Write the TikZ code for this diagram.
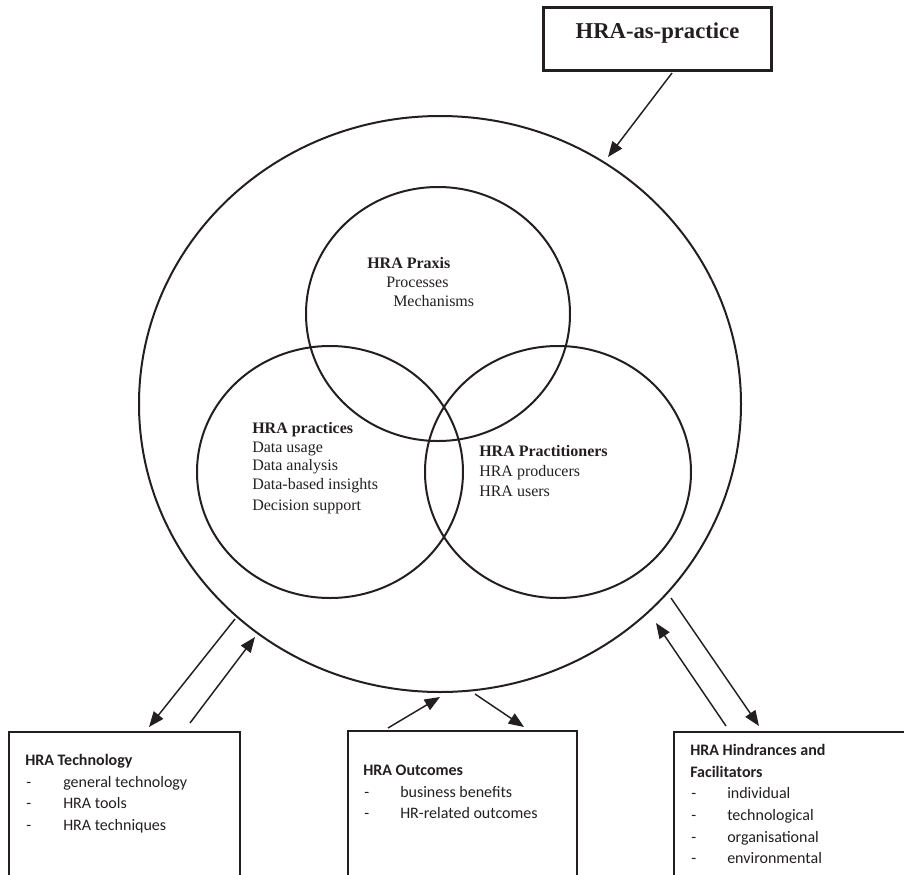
\documentclass[tikz,border=0pt]{standalone}
\usepackage{fontspec}
\setmainfont{Liberation Serif}
\newfontfamily\calib{Carlito}
\usetikzlibrary{shapes.geometric,arrows.meta}
\definecolor{ink}{RGB}{35,31,32}
\begin{document}
\begin{tikzpicture}[x=0.75pt,y=-0.75pt,
  ring/.style={draw=ink,line width=1.5pt,shape=ellipse,inner sep=0pt,outer sep=0pt},
  serif/.style={inner sep=0pt,anchor=base west,font=\fontsize{12}{14}\selectfont,text=ink},
  sans/.style={inner sep=0pt,anchor=base west,font=\calib\fontsize{12}{14}\selectfont,text=ink},
  boxed/.style={draw=ink,line width=1.25pt,rectangle,inner sep=0pt,outer sep=0pt},
  arr/.style={draw=ink,line width=1.1pt,-{Triangle[length=11.5pt,width=9pt]}}]
\useasboundingbox (0,0) rectangle (904,875);
\clip (0,0) rectangle (904,875);

% title box
\node[boxed,line width=2.5pt,minimum width=170.7pt,minimum height=47pt] (hbox) at (657.5,39) {};
\node[inner sep=0pt,anchor=base,text=ink,font=\fontsize{17}{20}\selectfont\bfseries] (htext) at (657.5,38) {HRA-as-practice};

% ellipses
\node[ring,minimum width=451.5pt,minimum height=432pt] (outer) at (440,404) {};
\node[ring,minimum width=198pt,minimum height=190.5pt] (praxis) at (438,314) {};
\node[ring,minimum width=199.5pt,minimum height=189pt] (practices) at (330,472) {};
\node[ring,minimum width=199.5pt,minimum height=189pt] (practitioners) at (558,472) {};

% praxis text
\node[serif] (px0) at (367,268) {\textbf{HRA Praxis}};
\node[serif] (px1) at (386,287) {Processes};
\node[serif] (px2) at (393,306) {Mechanisms};

% practices text
\node[serif] (pc0) at (252,433) {\textbf{HRA practices}};
\node[serif] (pc1) at (252,452) {Data usage};
\node[serif] (pc2) at (252,470) {Data analysis};
\node[serif] (pc3) at (252,489) {Data-based insights};
\node[serif] (pc4) at (252,510) {Decision support};

% practitioners text
\node[serif] (pt0) at (479,456) {\textbf{HRA Practitioners}};
\node[serif] (pt1) at (479,476) {HRA producers};
\node[serif] (pt2) at (479,496) {HRA users};

% bottom boxes
\node[boxed,minimum width=173.25pt,minimum height=225pt] (tech) at (124.5,882) {};
\node[boxed,minimum width=171.75pt,minimum height=225pt] (outc) at (462.5,881) {};
\node[boxed,minimum width=244.5pt,minimum height=225pt] (hind) at (837,882) {};

\node[sans] (tt0) at (25,765) {\textbf{HRA Technology}};
\node[sans] (tt1) at (26,787) {\makebox[27.75pt][l]{-}general technology};
\node[sans] (tt2) at (26,808) {\makebox[27.75pt][l]{-}HRA tools};
\node[sans] (tt3) at (26,830) {\makebox[27.75pt][l]{-}HRA techniques};

\node[sans] (to0) at (363,775) {\textbf{HRA Outcomes}};
\node[sans] (to1) at (364,797) {\makebox[27pt][l]{-}business benefits};
\node[sans] (to2) at (364,818) {\makebox[27pt][l]{-}HR-related outcomes};

\node[sans] (th0) at (690,755) {\textbf{HRA Hindrances and}};
\node[sans] (th1) at (690,777) {\textbf{Facilitators}};
\node[sans] (th2) at (691,798) {\makebox[27pt][l]{-}individual};
\node[sans] (th3) at (691,820) {\makebox[27pt][l]{-}technological};
\node[sans] (th4) at (691,842) {\makebox[27pt][l]{-}organisational};
\node[sans] (th5) at (691,863) {\makebox[27pt][l]{-}environmental};

% arrow end points
\coordinate (a0s) at (672,73);  \coordinate (a0e) at (608,157);
\coordinate (a1s) at (235,619); \coordinate (a1e) at (149,727);
\coordinate (a2s) at (190,723); \coordinate (a2e) at (255,637);
\coordinate (a3s) at (388,728); \coordinate (a3e) at (440,697);
\coordinate (a4s) at (475,694); \coordinate (a4e) at (524,727);
\coordinate (a5s) at (726,726); \coordinate (a5e) at (656,623);
\coordinate (a6s) at (671,598); \coordinate (a6e) at (759,726);

\draw[arr] (a0s) -- (a0e);
\draw[arr] (a1s) -- (a1e);
\draw[arr] (a2s) -- (a2e);
\draw[arr] (a3s) -- (a3e);
\draw[arr] (a4s) -- (a4e);
\draw[arr] (a5s) -- (a5e);
\draw[arr] (a6s) -- (a6e);
\end{tikzpicture}
\end{document}
